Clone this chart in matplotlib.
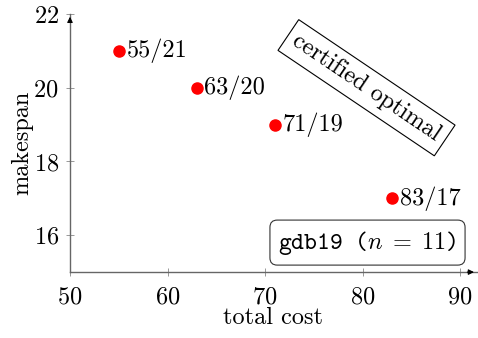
import matplotlib
matplotlib.use("Agg")
import matplotlib.pyplot as plt

# values
total_cost = [55, 63, 71, 83]
makespan = [21, 20, 19, 17]
point_labels = ["55/21", "63/20", "71/19", "83/17"]
xticks = [50, 60, 70, 80, 90]
yticks = [16, 18, 20, 22]

plt.rcParams['font.family'] = ['cmr10', 'DejaVu Serif']
plt.rcParams['mathtext.fontset'] = 'cm'
plt.rcParams['axes.formatter.use_mathtext'] = True
plt.rcParams['font.size'] = 17.5

fig = plt.figure(figsize=(4.78, 3.38), dpi=100)
ax = fig.add_axes([0.1464, 0.195, 0.851, 0.7636])

ax.plot(total_cost, makespan, 'o', color='red', ms=8, zorder=3, clip_on=False)
for x, y, lab in zip(total_cost, makespan, point_labels):
    ax.annotate(lab, (x, y), xytext=(5.5, 0), textcoords='offset points',
                va='center', ha='left')

ax.set_xlim(50, 91.7)
ax.set_ylim(15, 22)
ax.set_xticks(xticks)
ax.set_yticks(yticks)
ax.tick_params(direction='inout', length=6, width=0.6, color='#888888')
ax.tick_params(axis='x', pad=7)
ax.tick_params(axis='y', pad=5)

for s in ['top', 'right']:
    ax.spines[s].set_visible(False)
for s in ['left', 'bottom']:
    ax.spines[s].set_color('#666666')
    ax.spines[s].set_linewidth(1.0)

# arrow heads on the axes
ax.annotate('', xy=(1.0, 0), xytext=(0.97, 0), xycoords='axes fraction',
            arrowprops=dict(arrowstyle='-|>', color='black', lw=0.8,
                            mutation_scale=8), annotation_clip=False)
ax.annotate('', xy=(0, 1.0), xytext=(0, 0.96), xycoords='axes fraction',
            arrowprops=dict(arrowstyle='-|>', color='black', lw=0.8,
                            mutation_scale=8), annotation_clip=False)

ax.set_xlabel('total cost', labelpad=-1)
ax.set_ylabel('makespan', labelpad=0)

ax.text(80.4, 20.0, 'certified optimal', rotation=-34, rotation_mode='anchor',
        ha='center', va='center',
        bbox=dict(boxstyle='square,pad=0.3', fc='white', ec='black', lw=0.8))

ax.text(80.5, 15.8, r'gdb19 ($n\;=\;11$)', family=['cmtt10', 'DejaVu Sans Mono'],
        ha='center', va='center',
        bbox=dict(boxstyle='round,pad=0.35,rounding_size=0.3', fc='white',
                  ec='#333333', lw=0.8))

fig.savefig('out.png', dpi=100)
